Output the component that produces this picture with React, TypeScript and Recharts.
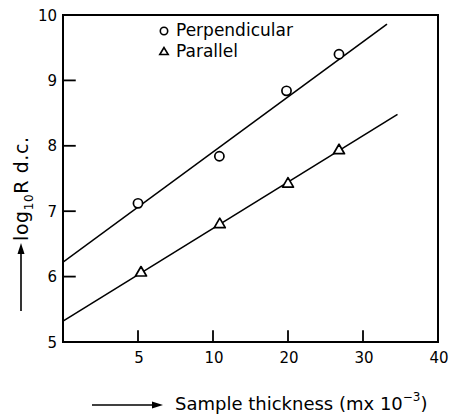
import React from 'react'
import {
  ComposedChart,
  Line,
  Scatter,
  XAxis,
  YAxis,
  Legend,
  ReferenceArea,
} from 'recharts'

// printed x tick labels (equally spaced on the original axis, not linear)
const xLabelValues = [5, 10, 20, 30, 40]
const yTicks = [5, 6, 7, 8, 9, 10]

// measured points, sample thickness (m x 10^-3) vs log10 R d.c.
const perpThickness = [5, 10.85, 19.8, 26.8]
const perpLogR = [7.12, 7.84, 8.84, 9.4]
const parThickness = [5.2, 10.9, 20, 26.8]
const parLogR = [6.07, 6.81, 7.43, 7.94]

// fitted straight lines (end points)
const perpFitThickness = [0, 33.2]
const perpFitLogR = [6.22, 9.86]
const parFitThickness = [0, 34.6]
const parFitLogR = [5.32, 8.48]

const seriesNames = ['Perpendicular', 'Parallel']

// the printed axis puts 0,5,10,20,30,40 at equal steps; map values to that position
const xBreaks = [0, ...xLabelValues]
function toPos(v: number) {
  for (let i = 1; i < xBreaks.length; i++) {
    if (v <= xBreaks[i] || i === xBreaks.length - 1) {
      const a = xBreaks[i - 1]
      const b = xBreaks[i]
      return i - 1 + (v - a) / (b - a)
    }
  }
  return 0
}

const zip = (xs: number[], ys: number[]) => xs.map((x, i) => ({ x: toPos(x), y: ys[i] }))

const perpData = zip(perpThickness, perpLogR)
const parData = zip(parThickness, parLogR)
const perpFit = zip(perpFitThickness, perpFitLogR)
const parFit = zip(parFitThickness, parFitLogR)

const FONT = 'DejaVu Sans'
const X_MIN = 0
const X_MAX = 5
const Y_MIN = 5
const Y_MAX = 10
// inward tick length, in axis units
const X_TICK_LEN = 0.18
const Y_TICK_LEN = 0.17

const xTickPos = xLabelValues.map(toPos)
// tick marks drawn as tiny two-point segments so they sit with the other lines
const xTickMarks = xTickPos.map((p) => [{ x: p, y: Y_MIN }, { x: p, y: Y_MIN + X_TICK_LEN }])
const yTickMarks = yTicks.map((v) => [{ x: X_MIN, y: v }, { x: X_MIN + Y_TICK_LEN, y: v }])

const XTick = (props: any) => {
  const { x, y, payload } = props
  const label = xLabelValues[Math.round(payload.value) - 1]
  return (
    <text x={x + 1} y={y + 21} textAnchor="middle" fontFamily={FONT} fontSize={15} fill="#000">
      {label}
    </text>
  )
}

const YTick = (props: any) => {
  const { x, y, payload } = props
  return (
    <text x={x - 6} y={y + 5.5} textAnchor="end" fontFamily={FONT} fontSize={15} fill="#000">
      {payload.value}
    </text>
  )
}

const XTitle = (props: any) => {
  const { x, y } = props.viewBox
  return (
    <g>
      <line x1={x + 29} y1={y + 63} x2={x + 91} y2={y + 63} stroke="#000" strokeWidth={1.6} />
      <polygon points={`${x + 100},${y + 63} ${x + 89},${y + 59.5} ${x + 89},${y + 66.5}`} fill="#000" />
      <text x={x + 112} y={y + 68} fontFamily={FONT} fontSize={18} fill="#000">
        Sample thickness (mx 10<tspan fontSize={12} dy={-9}>−3</tspan>
        <tspan dy={9}>)</tspan>
      </text>
    </g>
  )
}

const YTitle = (props: any) => {
  const { x, y } = props.viewBox
  return (
    <g>
      <line x1={x + 21} y1={y + 296} x2={x + 21} y2={y + 237} stroke="#000" strokeWidth={1.6} />
      <polygon points={`${x + 21},${y + 228} ${x + 17.5},${y + 239} ${x + 24.5},${y + 239}`} fill="#000" />
      <text
        transform={`translate(${x + 28},${y + 226}) rotate(-90)`}
        fontFamily={FONT}
        fontSize={19}
        fill="#000"
        letterSpacing={0.6}
      >
        log<tspan fontSize={12} dy={5}>10</tspan>
        <tspan dy={-5}>R d.c.</tspan>
      </text>
    </g>
  )
}

const CircleDot = (props: any) => (
  <circle cx={props.cx} cy={props.cy} r={4.6} fill="#fff" stroke="#000" strokeWidth={1.7} />
)

const TriangleDot = (props: any) => {
  const { cx, cy } = props
  return (
    <polygon
      points={`${cx},${cy - 5.5} ${cx - 5.5},${cy + 4} ${cx + 5.5},${cy + 4}`}
      fill="#fff"
      stroke="#000"
      strokeWidth={1.7}
      strokeLinejoin="round"
    />
  )
}

const LegendBox = (props: any) => {
  const items = seriesNames
    .map((n) => (props.payload || []).find((p: any) => p.value === n))
    .filter(Boolean)
  return (
    <div style={{ fontFamily: FONT, fontSize: 17, color: '#000', lineHeight: '21px' }}>
      {items.map((p: any) => (
        <div key={p.value} style={{ display: 'flex', alignItems: 'center' }}>
          <svg width={20} height={21}>
            {p.value === 'Perpendicular' ? (
              <circle cx={8} cy={11} r={3.7} fill="none" stroke="#000" strokeWidth={1.6} />
            ) : (
              <polygon points="8,6.5 3.8,13.5 12.2,13.5" fill="none" stroke="#000" strokeWidth={1.6} />
            )}
          </svg>
          <span>{p.value}</span>
        </div>
      ))}
    </div>
  )
}

export default function App() {
  return (
    <div style={{ position: 'absolute', left: 0, top: 0, width: 451, height: 414, background: '#fff' }}>
      <ComposedChart width={451} height={414} margin={{ top: 15, right: 13, left: 0, bottom: 0 }}>
        <XAxis
          type="number"
          dataKey="x"
          domain={[X_MIN, X_MAX]}
          ticks={xTickPos}
          interval={0}
          height={72}
          tickSize={0}
          tickMargin={0}
          tick={XTick}
          tickLine={false}
          axisLine={{ stroke: '#000', strokeWidth: 2 }}
          label={{ content: XTitle }}
          allowDataOverflow
        />
        <YAxis
          type="number"
          dataKey="y"
          domain={[Y_MIN, Y_MAX]}
          ticks={yTicks}
          interval={0}
          width={63}
          tickSize={0}
          tickMargin={0}
          tick={YTick}
          tickLine={false}
          axisLine={{ stroke: '#000', strokeWidth: 2 }}
          label={{ content: YTitle }}
          allowDataOverflow
        />
        <ReferenceArea x1={X_MIN} x2={X_MAX} y1={Y_MIN} y2={Y_MAX} fill="none" stroke="#000" strokeWidth={2} ifOverflow="visible" />
        {xTickMarks.map((seg, i) => (
          <Line
            key={`xt${i}`}
            data={seg}
            dataKey="y"
            stroke="#000"
            strokeWidth={1.8}
            dot={false}
            legendType="none"
            isAnimationActive={false}
          />
        ))}
        {yTickMarks.map((seg, i) => (
          <Line
            key={`yt${i}`}
            data={seg}
            dataKey="y"
            stroke="#000"
            strokeWidth={1.8}
            dot={false}
            legendType="none"
            isAnimationActive={false}
          />
        ))}
        <Line data={perpFit} dataKey="y" stroke="#000" strokeWidth={1.6} dot={false} legendType="none" isAnimationActive={false} />
        <Line data={parFit} dataKey="y" stroke="#000" strokeWidth={1.6} dot={false} legendType="none" isAnimationActive={false} />
        <Scatter name={seriesNames[0]} data={perpData} dataKey="y" shape={CircleDot} isAnimationActive={false} />
        <Scatter name={seriesNames[1]} data={parData} dataKey="y" shape={TriangleDot} isAnimationActive={false} />
        <Legend
          layout="vertical"
          align="center"
          verticalAlign="middle"
          content={LegendBox}
          wrapperStyle={{ left: 156, top: 20, width: 180, height: 44 }}
        />
      </ComposedChart>
    </div>
  )
}
